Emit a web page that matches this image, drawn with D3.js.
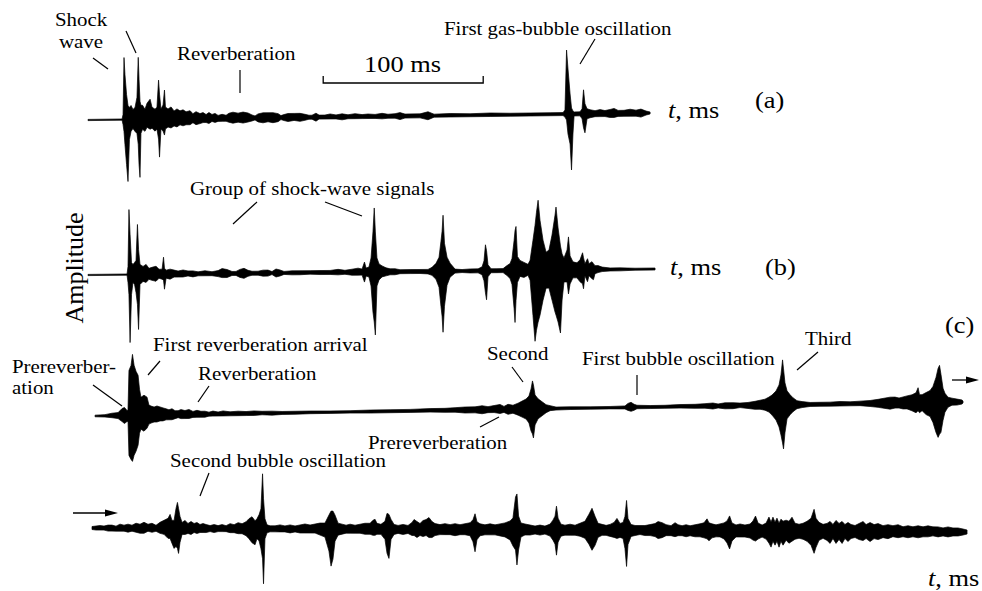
<!DOCTYPE html>
<html>
<head>
<meta charset="utf-8">
<script src="https://cdn.jsdelivr.net/npm/d3@7"></script>
<style>
  html, body { margin: 0; padding: 0; background: #fff; }
  svg { display: block; }
  text { font-family: "Liberation Serif", "Times New Roman", serif; fill: #000; }
</style>
</head>
<body>
<svg id="chart" width="982" height="591"></svg>
<script>
// Envelope samples of each hydrophone record: [time (ms), upper amplitude, lower amplitude]
const traceA = [
  [0,0.6,0.6],[21.3,0.6,0.6],[21.9,5,5],[22.5,62,12],[23.1,45,25],[24.1,25,45],[25,14,62],[25.9,12,20],
  [26.9,14,12],[28.1,10,9],[29.4,12,12],[30.6,22,14],[31.4,62,25],[31.9,40,45],[32.5,18,58],[33.1,14,14],
  [34.1,14,10],[35.6,10,12],[36.9,16,8],[38.8,20,10],[40,12,9],[41.9,10,12],[43.1,12,10],[44.1,39,20],
  [44.7,25,38],[45.6,10,10],[46.9,14,12],[47.8,29,16],[48.4,12,10],[50,10,8],[51.9,12,9],[53.8,8,7],
  [55.6,10,8],[57.5,8,6],[59.4,9,7],[61.3,7,6],[63.8,8,6],[65.6,5,4],[67.5,7,6],[70,5,5],[71.9,6,4],
  [73.8,4,4],[75.6,6,5],[77.5,4,3],[79.4,5,4],[81.3,3,3],[83.8,4,3],[86.3,3,3],[88.1,5,4],[90.6,6,5],
  [93.8,5,4],[96.9,6,5],[100,5,4],[102.5,3,3],[104.4,2,2],[106.3,4,4],[109.4,5,5],[112.5,5,4],[115.6,5,5],
  [118.8,4,4],[120.6,2,2],[122.5,3,3],[125,4,4],[128.8,4,3],[132.5,4,4],[135.6,3,3],[138.1,2,2],[140,2,2],
  [142.5,4,4],[144.4,2,2],[148.1,2,2],[151.3,3,2],[155,2,2],[158.8,3,3],[162.5,2,2],[166.9,3,2],[171.3,2,2],
  [175,2.5,2],[179.4,2,2],[183.8,3,2.5],[187.5,2,2],[191.9,2.5,2],[195,3.5,3.5],[198.1,2,2],[207.5,2,2],
  [212.5,4,4],[216.3,1.5,1.5],[226.3,2,1.5],[238.8,1.5,1.5],[251.3,2,1.5],[263.8,1.5,1.5],[276.3,1.5,1.5],
  [288.8,1.5,1.5],[296.9,1.5,1.5],[298.1,4,3],[299.1,64,6],[300,45,20],[301.3,20,30],[302.2,6,56],
  [303.1,3,20],[303.8,2,2],[307.5,2,2],[308.8,5,5],[309.7,24,14],[310.6,10,19],[311.9,5,5],[313.8,4,4],
  [316.9,3,3],[320,4,3],[323.1,3,3],[326.3,4,4],[328.8,5,4],[331.3,3,3],[335,3,3],[338.8,4,3],[342.5,3,3],
  [345.6,4,4],[348.8,2,2],[351.3,1,1]
];

const traceB = [
  [0,0.6,0.6],[24.4,0.6,0.6],[25,8,8],[25.6,65,20],[26.3,40,68],[27.2,12,20],[28.1,10,8],[29.1,12,10],
  [30,14,18],[30.9,50,30],[31.6,25,55],[32.5,10,10],[34.4,8,7],[36.3,10,8],[38.1,6,5],[40,7,6],[42.5,8,7],
  [44.4,5,4],[46.3,5,5],[47.2,17,6],[47.8,6,15],[48.8,4,4],[51.3,5,5],[53.8,4,3],[56.3,3,3],[59.4,4,3],
  [62.5,3,2],[65.6,3,3],[68.8,2,2],[73.1,3,2],[77.5,2,2],[81.3,3,3],[83.8,5,4],[86.9,4,4],[90,2,2],
  [92.5,2,2],[95,4,4],[97.5,5,5],[100,3,3],[102.5,2,2],[106.3,2,2],[109.4,3,3],[112.5,3,3],[115,1.5,1.5],
  [117.5,4,4],[120,3,3],[122.5,1.5,1.5],[127.5,2,2],[132.5,2,2],[138.8,2,1.5],[145,2,2],[151.3,2,2],
  [156.3,3,2.5],[160.6,2,2],[165,3,3],[168.8,4,3],[171.3,3,3],[172.8,10,10],[173.8,4,4],[175.6,5,5],
  [176.9,14,14],[178.1,40,40],[178.9,64,50],[179.6,40,63],[180.6,14,14],[181.9,8,8],[183.8,6,5],
  [186.3,4,4],[188.8,3,3],[191.9,3,3],[195,2,2],[201.3,2,2],[207.5,2,2],[212.5,2,2.5],[215,4,4],
  [217.5,8,8],[219.4,14,16],[220.6,30,35],[221.3,40,45],[221.9,56,61],[222.8,28,35],[224.4,14,14],
  [226.3,8,6],[229.4,2,2],[233.8,1.5,1.5],[238.8,2,2],[243.8,2,2],[246.3,4,4],[247.5,10,10],[248.4,26,22],
  [249.1,20,29],[250,6,6],[251.9,2,2],[255.6,2,2],[259.4,2,2],[261.9,5,5],[263.8,7,8],[265,12,14],
  [266.3,30,38],[266.9,40,52],[267.5,44,30],[268.4,14,12],[270,10,6],[272.5,8,7],[275,6,5],[276.3,10,10],
  [278.1,30,45],[279.4,45,71],[280.3,58,60],[281.3,70,52],[282.5,50,45],[284.4,30,30],[286.3,18,18],
  [288.1,20,18],[290,35,30],[291.9,55,42],[292.5,63,45],[293.8,42,52],[295.3,24,63],[296.3,16,30],
  [297.5,12,12],[299.4,20,12],[300.3,33,24],[301.3,14,14],[303.1,8,8],[305.6,7,8],[307.5,10,12],
  [309.1,17,14],[309.7,12,19],[310.6,6,6],[312.2,11,12],[313.1,6,6],[315,8,9],[315.9,6,10],[316.9,4,4],
  [318.8,4,3],[321.3,2.5,2],[326.3,1.5,1.5],[332.5,1.5,1.5],[341.9,1,1],[354.4,1,1]
];

const traceC = [
  [4.4,0.8,0.8],[10.6,1.2,1.2],[15,2.5,2],[18.8,3,3],[21.3,7,6],[22.8,8,8],[24.4,5,6],[25,6,6],
  [25.6,45,40],[26.9,50,44],[27.8,61,46],[28.8,50,40],[30,44,36],[31.3,40,30],[32.2,26,18],[33.1,18,14],
  [35,20,16],[36.9,18,13],[38.1,10,9],[39.4,9,8],[41.3,8,7],[43.1,9,7],[45,8,6],[46.9,7,6],[48.8,6,5],
  [50.6,5,5],[52.5,6,5],[54.4,4,4],[56.3,4,3],[58.1,5,4],[60.6,4,4],[63.1,5,4],[65.6,3,3],[68.1,4,3],
  [70.6,3,3],[73.1,3,3],[75.6,2,2],[78.1,3,2],[81.3,2,2],[84.4,3,2],[88.8,2,2],[93.8,2.5,2],[98.8,2,2],
  [103.8,2.5,2],[108.8,2,1.5],[115,2,2],[121.3,1.5,1.5],[129.4,1.5,1.5],[138.8,1.5,1.2],[151.3,1.2,1.2],
  [163.8,1.2,1.2],[176.3,1.5,1.5],[188.8,1.5,1.5],[201.3,1.5,1.5],[213.8,2,1.5],[223.1,2,2],[229.4,2.5,2],
  [235.6,3,3],[241.9,3,3],[246.3,4,4],[250,3,3],[253.8,4,3],[257.5,5,4],[260,3,3],[262.5,5,5],[265.6,4,4],
  [268.8,6,6],[271.3,8,8],[273.8,10,10],[275.6,13,14],[276.9,20,22],[277.8,28,25],[278.4,24,29],
  [279.4,14,16],[281.3,10,10],[283.8,7,7],[286.3,4,4],[288.8,3,2],[292.5,1.5,1.5],[301.3,1.5,1.2],
  [313.8,1.2,1.2],[326.3,1.2,1.2],[335.6,1.5,1.5],[337.5,4,3],[339.4,5,4],[341.3,3,3],[343.1,2,1.5],
  [351.3,1.5,1.5],[360.6,1.5,1.5],[370,2,1.5],[379.4,2,2],[385.6,2.5,2],[390.6,3,3],[393.8,2,2],
  [398.1,3,3],[403.1,3,3],[407.5,2.5,2],[412.5,3,3],[416.9,4,4],[420,5,4],[423.1,6,5],[425.6,8,7],
  [427.5,10,10],[430,14,15],[431.9,20,22],[433.1,30,30],[434.1,45,38],[434.7,36,44],[435.6,22,28],
  [436.9,14,14],[438.8,10,10],[440.6,7,7],[443.1,4,4],[446.3,3,3],[451.3,2,2],[457.5,2,2],[463.8,2,2],
  [470,2.5,2],[476.3,2,2],[482.5,2.5,2],[488.8,3,3],[493.8,4,4],[497.5,5,5],[501.3,6,6],[504.4,6,5],
  [506.9,5,5],[509.4,6,6],[511.9,7,6],[515,8,8],[517.5,10,10],[518.8,15,8],[519.7,8,10],[521.3,8,8],
  [523.8,10,12],[526.3,12,14],[528.1,16,20],[530,25,30],[531.3,34,35],[532.2,37,32],[533.1,28,30],
  [534.4,14,18],[535.6,9,10],[537.5,5,5],[540,4,3],[543.1,3,3],[546.3,2,2],[546.9,0.8,0.8]
];

const traceD = [
  [2.5,1.5,1.5],[5,2,2],[7.5,2.5,2],[10,2,2],[12.5,3,3],[15,3,3],[17.5,2,3],[20,4,3],[22.5,3,3],[25,4,4],
  [27.5,3,3],[30,5,4],[32.5,4,5],[35,6,5],[37.5,4,3],[40,5,4],[42.5,3,3],[45,6,5],[47.5,8,6],[50,10,10],
  [51.3,14,10],[52.5,8,15],[53.8,8,20],[55,20,18],[55.9,26,20],[56.6,20,25],[57.5,12,14],[58.8,6,6],
  [60.6,8,6],[62.5,5,5],[64.4,7,6],[66.3,5,4],[68.1,6,5],[70,4,4],[71.9,5,4],[73.8,4,4],[76.3,3,3],
  [78.8,4,4],[81.3,3,3],[83.8,4,3],[86.3,3,3],[88.8,5,4],[91.3,4,4],[93.8,6,5],[96.3,5,5],[98.8,7,7],
  [100.6,10,10],[102.5,12,14],[104.4,8,16],[105.6,10,10],[106.9,14,12],[108.1,20,20],[109.1,55,30],
  [109.7,30,55],[110.6,10,10],[111.9,4,4],[113.8,3,3],[116.9,3,3],[120,4,3],[123.1,3,3],[126.3,4,4],
  [129.4,3,3],[132.5,4,4],[135.6,5,4],[138.8,4,4],[141.9,5,4],[145,6,6],[148.1,6,8],[150.6,14,22],
  [151.9,18,37],[153.1,18,30],[154.4,14,12],[156.3,6,6],[158.8,5,5],[161.3,4,4],[163.8,5,4],[166.9,4,4],
  [170,5,4],[173.1,6,5],[176.3,6,5],[178.1,9,6],[179.4,10,6],[180.6,6,5],[183.1,5,5],[185.6,8,10],
  [186.9,16,24],[188.1,15,29],[189.4,10,10],[191.3,5,5],[193.8,4,4],[196.9,5,5],[200,4,4],[202.5,7,6],
  [203.8,10,6],[205.6,8,8],[207.5,6,6],[209.4,9,7],[211.3,10,6],[213.1,12,8],[215,8,8],[216.9,6,6],
  [220,5,5],[223.1,6,5],[226.3,5,5],[229.4,6,6],[232.5,5,5],[235.6,6,5],[238.8,7,6],[240.6,10,12],
  [241.9,16,22],[243.1,8,10],[245,6,6],[248.1,5,5],[251.3,6,5],[254.4,5,5],[257.5,6,6],[260.6,7,7],
  [263.8,9,10],[265.6,12,16],[267.2,33,20],[268.1,36,35],[269.1,14,20],[270.6,7,7],[273.1,6,5],
  [276.3,5,5],[279.4,4,4],[282.5,5,5],[285.6,4,4],[288.8,6,6],[290.6,10,10],[291.9,14,14],[292.8,24,25],
  [293.8,12,12],[295.6,6,6],[298.1,5,5],[301.3,6,5],[304.4,5,5],[307.5,7,6],[310.6,9,8],[313.1,16,14],
  [315,22,20],[316.9,14,15],[318.8,7,7],[321.3,6,5],[323.8,5,5],[326.3,6,6],[328.8,8,7],[330.6,12,8],
  [332.5,7,7],[334.4,8,8],[335.6,14,18],[336.6,30,36],[337.5,12,14],[339.4,6,6],[341.9,5,5],[345,5,4],
  [348.1,5,5],[351.3,6,5],[354.4,7,6],[356.3,9,8],[358.8,8,7],[361.3,6,5],[364.4,5,5],[366.9,8,6],
  [368.8,6,5],[371.3,5,5],[373.8,6,6],[376.3,5,5],[379.4,6,6],[382.5,7,6],[385,8,7],[386.9,12,8],
  [388.1,8,10],[390,7,7],[392.5,6,6],[395,7,6],[397.5,8,8],[399.4,10,12],[401,15,18],[402.5,8,10],
  [405,6,6],[407.5,7,6],[410.6,6,6],[413.8,7,7],[415.6,10,9],[417.2,15,10],[418.8,8,8],[421.3,6,6],
  [423.8,8,8],[425.6,14,12],[426.9,9,16],[428.1,14,10],[429.4,9,14],[430.6,13,10],[431.9,8,16],
  [433.1,12,10],[434.4,10,14],[436.3,11,9],[438.1,10,12],[440,14,10],[441.9,8,8],[444.4,7,7],[446.9,8,8],
  [449.4,10,10],[451.9,13,14],[453.8,22,22],[455,13,16],[456.9,9,9],[459.4,7,7],[461.9,8,9],[463.8,10,12],
  [465.6,7,7],[467.5,11,12],[469.4,8,8],[471.3,10,12],[473.1,7,7],[475,9,10],[476.9,7,7],[479.4,6,6],
  [481.9,8,8],[484.4,10,9],[486.3,7,7],[488.8,9,10],[491.3,7,7],[493.8,8,8],[496.9,6,6],[500,7,7],
  [503.1,6,5],[506.3,7,6],[509.4,5,5],[512.5,6,6],[515.6,5,5],[518.8,6,6],[521.9,5,5],[525,6,5],
  [528.1,5,4],[531.3,5,5],[534.4,4,4],[537.5,5,5],[540.6,4,4],[543.8,4,4],[546.9,3,3],[549.4,2,2]
];

// Scale bar length in ms
const scaleBarMs = 100;
const scaleBarStartMs = 147;

const svg = d3.select("#chart");

// Time axis shared by all four records (1.6 px per ms)
const x = d3.scaleLinear().domain([0, 550]).range([88, 968]);
// Amplitude axis, relative to each record's zero line
const y = d3.scaleLinear().domain([-70, 70]).range([70, -70]);

const records = [
  { data: traceA, base: 120, tilt: -0.714 },
  { data: traceB, base: 275, tilt: -0.606 },
  { data: traceC, base: 416.1, tilt: -0.924 },
  { data: traceD, base: 528, tilt: 0.262 }
];

const area = d3.area()
  .x(d => x(d[0]))
  .y0(d => y(-d[2]))
  .y1(d => y(d[1]))
  .curve(d3.curveLinear);

records.forEach(r => {
  svg.append("g")
    .attr("transform", `translate(${x(0)},${r.base}) skewY(${r.tilt}) translate(${-x(0)},0)`)
    .append("path")
    .datum(r.data)
    .attr("d", area)
    .attr("fill", "#000")
    .attr("stroke", "#000")
    .attr("stroke-width", 0.7)
    .attr("stroke-linejoin", "round");
});

// 100 ms scale bar
const barY = 83;
svg.append("path")
  .attr("d", `M${x(scaleBarStartMs)},${barY - 7}V${barY}H${x(scaleBarStartMs + scaleBarMs)}V${barY - 7}`)
  .attr("fill", "none").attr("stroke", "#000").attr("stroke-width", 1.3);

// Annotation leader lines
const leaders = [
  [93, 58, 108, 69], [126, 31, 136, 53], [240, 70, 240, 93], [595, 39, 580, 64],
  [257, 202, 233, 224], [325, 202, 362, 216],
  [93, 385, 122, 406], [160, 361, 148, 375], [209, 386, 198, 402], [512, 367, 523, 382],
  [637, 375, 637, 395], [818, 352, 797, 370], [480, 427, 499, 417], [209, 473, 200, 496]
];
svg.append("g").selectAll("line").data(leaders).join("line")
  .attr("x1", d => d[0]).attr("y1", d => d[1])
  .attr("x2", d => d[2]).attr("y2", d => d[3])
  .attr("stroke", "#000").attr("stroke-width", 1.2);

// Continuation arrows between records (c) and (d)
const arrows = [
  { x1: 952, x2: 979, y: 380 },
  { x1: 73, x2: 118, y: 513 }
];
arrows.forEach(a => {
  svg.append("line").attr("x1", a.x1).attr("y1", a.y).attr("x2", a.x2 - 8).attr("y2", a.y)
    .attr("stroke", "#000").attr("stroke-width", 1.3);
  svg.append("path")
    .attr("d", `M${a.x2},${a.y}L${a.x2 - 13},${a.y - 3.5}L${a.x2 - 13},${a.y + 3.5}Z`)
    .attr("fill", "#000");
});

// Text labels
const labels = [
  { t: "Shock", x: 55, y: 26, s: 19 },
  { t: "wave", x: 59, y: 48, s: 19 },
  { t: "Reverberation", x: 177, y: 60, s: 19 },
  { t: "First gas-bubble oscillation", x: 444, y: 35, s: 19 },
  { t: "Group of shock-wave signals", x: 190, y: 195, s: 19 },
  { t: "Prereverber-", x: 12, y: 373, s: 19 },
  { t: "ation", x: 12, y: 394, s: 19 },
  { t: "First reverberation arrival", x: 153, y: 351, s: 19 },
  { t: "Reverberation", x: 198, y: 380, s: 19 },
  { t: "Second", x: 487, y: 360, s: 19 },
  { t: "First bubble oscillation", x: 582, y: 365, s: 19 },
  { t: "Third", x: 805, y: 345, s: 19 },
  { t: "Prereverberation", x: 368, y: 449, s: 19 },
  { t: "Second bubble oscillation", x: 170, y: 467, s: 19 },
  { t: "100 ms", x: 364, y: 72, s: 24 },
  { t: "(a)", x: 755, y: 108, s: 24 },
  { t: "(b)", x: 765, y: 275, s: 24 },
  { t: "(c)", x: 945, y: 333, s: 24 }
];
labels.forEach(l => {
  svg.append("text")
    .attr("transform", `translate(${l.x},${l.y}) scale(1.1,1)`)
    .attr("font-size", l.s)
    .text(l.t);
});

// Time axis captions
const timeCaptions = [
  { x: 668, y: 118 }, { x: 670, y: 275 }, { x: 928, y: 586 }
];
timeCaptions.forEach(c => {
  const t = svg.append("text")
    .attr("transform", `translate(${c.x},${c.y}) scale(1.1,1)`)
    .attr("font-size", 24);
  t.append("tspan").attr("font-style", "italic").text("t");
  t.append("tspan").text(", ms");
});

// Vertical axis caption
svg.append("text")
  .attr("transform", "translate(83,268) rotate(-90)")
  .attr("text-anchor", "middle")
  .attr("font-size", 26)
  .text("Amplitude");
</script>
</body>
</html>
